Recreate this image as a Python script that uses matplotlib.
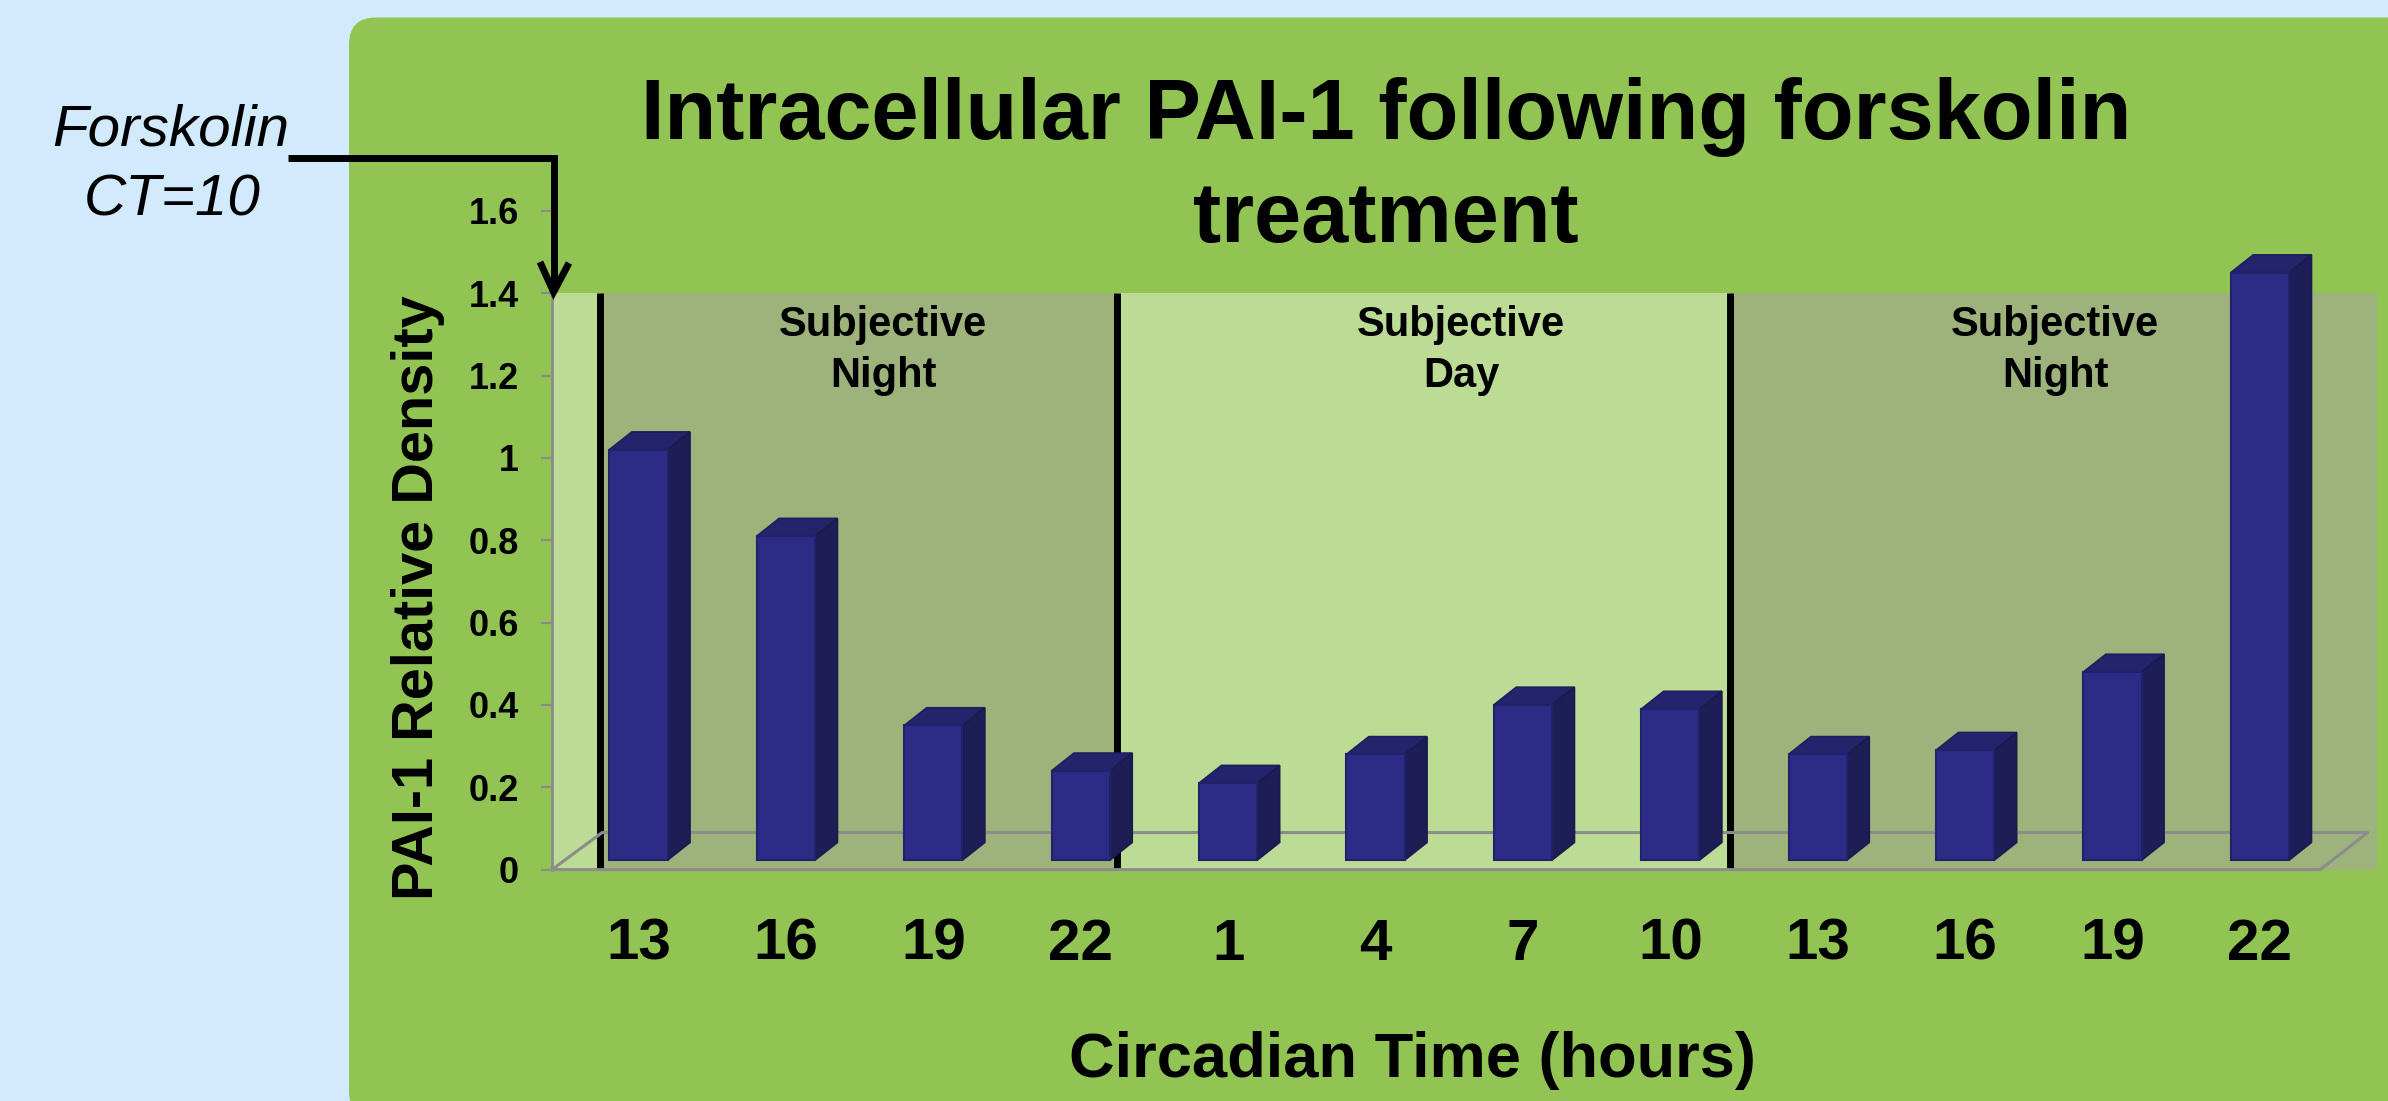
import matplotlib
matplotlib.use("Agg")
import matplotlib.pyplot as plt
from matplotlib.patches import FancyBboxPatch, Rectangle, Polygon
from matplotlib.lines import Line2D
import numpy as np

plt.rcParams['font.family'] = ['Liberation Sans', 'DejaVu Sans']

# circadian time of each sample and PAI-1 density
ct_labels = ['13', '16', '19', '22', '1', '4', '7', '10', '13', '16', '19', '22']
relative_density = [1.02, 0.81, 0.35, 0.24, 0.21, 0.28, 0.40, 0.39, 0.28, 0.29, 0.48, 1.45]

y_ticks = [0, 0.2, 0.4, 0.6, 0.8, 1.0, 1.2, 1.4, 1.6]
y_tick_labels = ['0', '0.2', '0.4', '0.6', '0.8', '1', '1.2', '1.4', '1.6']

# day / night shading of the plot area
band_names = ['', 'Subjective\nNight', 'Subjective\nDay', 'Subjective\nNight']
band_edges = [-0.587, -0.261, 3.246, 7.405, 11.794]
band_text_x = [None, 1.66, 5.58, 9.61]

BG = '#D2EBFC'
PANEL = '#92C453'
NIGHT = '#9DB37B'
DAY = '#BCDB94'
FRONT = '#2C2C87'
SIDE = '#1E1E57'
TOP = '#24246C'
GRID = '#8C8C8C'

W, H = 2388, 1101
fig = plt.figure(figsize=(W / 100, H / 100), dpi=100, facecolor=BG)

# background layer in pixel coordinates
bg = fig.add_axes([0, 0, 1, 1])
bg.set_xlim(0, W)
bg.set_ylim(H, 0)
bg.axis('off')
bg.add_patch(FancyBboxPatch((349, 17.5), W - 349 + 80, H, boxstyle='round,pad=0,rounding_size=27',
                            fc=PANEL, ec='none'))

# chart axes
ax = fig.add_axes([552 / W, (H - 869.6) / H, 1825 / W, 658.8 / H])
ax.patch.set_visible(False)
ax.set_xlim(band_edges[0], band_edges[-1])
ax.set_ylim(0, 1.6)

shades = [DAY, NIGHT, DAY, NIGHT]
for i in range(4):
    ax.add_patch(Rectangle((band_edges[i], 0), band_edges[i + 1] - band_edges[i], 1.4,
                           fc=shades[i], ec='none', zorder=0))
for xe in band_edges[1:4]:
    ax.plot([xe, xe], [0, 1.4], color='black', lw=5, zorder=1, solid_capstyle='butt')

for name, tx in zip(band_names, band_text_x):
    if tx is None:
        continue
    l1, l2 = name.split('\n')
    ax.text(tx, 1.296, l1, ha='center', va='baseline', fontsize=30, fontweight='bold', zorder=5)
    ax.text(tx, 1.173, l2, ha='center', va='baseline', fontsize=30, fontweight='bold', zorder=5)

# floor of the 3-D plot
fdx, fdy = 0.34, 0.09
x0, x1 = band_edges[0], 11.408
ax.plot([x0, x1, x1 + fdx * 0.95, x0 + fdx, x0], [0, 0, fdy, fdy, 0], color=GRID, lw=2.2, zorder=2,
        clip_on=False)

# 3-D columns
x = np.arange(len(relative_density))
b0 = 0.023
bw = 0.395
dx, dy = 0.152, 0.043
vals = np.array(relative_density)
ax.bar(x, vals - b0, bottom=b0, width=bw, color=FRONT, edgecolor='#22226A', linewidth=1.5, zorder=4)
for xi, v in zip(x, vals):
    xl, xr = xi - bw / 2, xi + bw / 2
    ax.add_patch(Polygon([(xl, v), (xr, v), (xr + dx, v + dy), (xl + dx, v + dy)], closed=True,
                         fc=TOP, ec='#1E1E5C', lw=1.2, zorder=3.9, clip_on=False))
    ax.add_patch(Polygon([(xr, b0), (xr + dx, b0 + dy), (xr + dx, v + dy), (xr, v)], closed=True,
                         fc=SIDE, ec='#1A1A50', lw=1.2, zorder=3.9, clip_on=False))

# axes styling
for s in ['top', 'right', 'bottom']:
    ax.spines[s].set_visible(False)
ax.spines['left'].set_color(GRID)
ax.spines['left'].set_linewidth(2)
ax.spines['left'].set_bounds(0, 1.6)
ax.set_yticks(y_ticks)
ax.set_yticklabels(y_tick_labels, fontsize=26, fontweight='bold')
ax.tick_params(axis='y', direction='out', length=8, width=1.5, color=GRID, pad=16)
ax.set_xticks(x)
ax.set_xticklabels(ct_labels, fontsize=42, fontweight='bold')
ax.tick_params(axis='x', length=0, pad=34.8)

ax.set_xlabel('Circadian Time (hours)', fontsize=45.5, fontweight='bold', va='baseline')
ax.xaxis.set_label_coords((1412 - 552) / 1825, (869.6 - 1076.7) / 658.8)
ax.set_ylabel('PAI-1 Relative Density', fontsize=41.5, fontweight='bold', va='baseline')
ax.yaxis.set_label_coords((433 - 552) / 1825, (869.6 - 598) / 658.8)

# title
fig.text(1386 / W, 1 - 139.3 / H, 'Intracellular PAI-1 following forskolin', ha='center',
         va='baseline', fontsize=61, fontweight='bold')
fig.text(1386 / W, 1 - 241.7 / H, 'treatment', ha='center', va='baseline', fontsize=61,
         fontweight='bold')

# forskolin annotation
fig.text(171 / W, 1 - 145 / H, 'Forskolin', ha='center', va='baseline', fontsize=42, style='italic')
fig.text(172 / W, 1 - 215 / H, 'CT=10', ha='center', va='baseline', fontsize=42, style='italic')
ax.add_line(Line2D([288, 553.6, 553.6], [158, 158, 291], color='black', lw=5,
                   solid_joinstyle='miter', solid_capstyle='butt',
                   transform=bg.transData, clip_on=False, zorder=10))
ax.add_line(Line2D([540, 553.6, 569], [262, 292, 263], color='black', lw=5,
                   solid_joinstyle='miter', solid_capstyle='butt',
                   transform=bg.transData, clip_on=False, zorder=10))

fig.savefig('out.png', dpi=100, facecolor=BG)
